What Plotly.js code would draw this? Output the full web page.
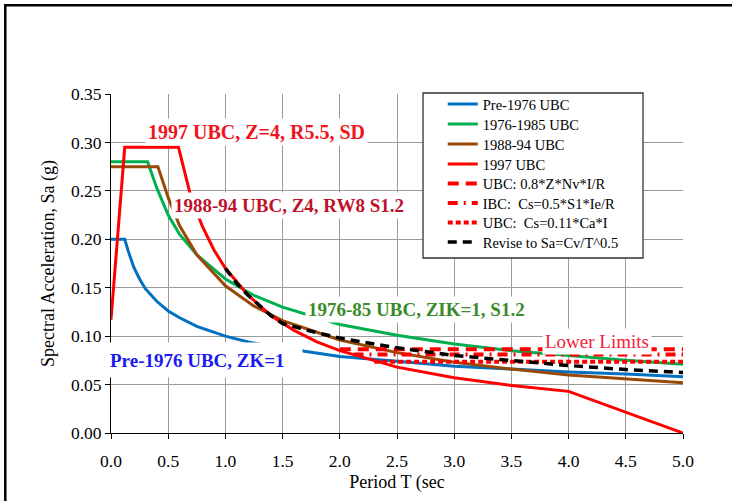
<!DOCTYPE html>
<html><head><meta charset="utf-8">
<script src="https://cdn.plot.ly/plotly-3.0.1.min.js"></script>
<style>html,body{margin:0;padding:0;background:#fff}</style>
</head><body><div id="chart" style="width:732px;height:501px"></div>
<script>
// ---- data ----
const seriesNames = ['Pre-1976 UBC', '1976-1985 UBC', '1988-94 UBC', '1997 UBC',
  'UBC: 0.8*Z*Nv*I/R', 'IBC:  Cs=0.5*S1*Ie/R', 'UBC:  Cs=0.11*Ca*I', 'Revise to Sa=Cv/T^0.5'];

const preT  = [0, 0.12, 0.15, 0.2, 0.25, 0.3, 0.4, 0.5, 0.6, 0.75, 1.0, 1.2, 1.37, 1.64, 2.0, 2.5, 3.0, 3.5, 4.0, 4.5, 5.0];
const preSa = [0.200, 0.200, 0.188, 0.171, 0.159, 0.149, 0.136, 0.126, 0.119, 0.110, 0.100, 0.094, 0.090, 0.085, 0.079, 0.074, 0.069, 0.066, 0.063, 0.061, 0.058];

const ubc76T  = [0, 0.1, 0.2, 0.32, 0.4, 0.5, 0.6, 0.75, 1.0, 1.25, 1.5, 2.0, 2.5, 3.0, 3.5, 4.0, 4.5, 5.0];
const ubc76Sa = [0.280, 0.280, 0.280, 0.280, 0.253, 0.225, 0.205, 0.184, 0.159, 0.142, 0.130, 0.112, 0.101, 0.092, 0.085, 0.080, 0.075, 0.071];

const ubc88T  = [0, 0.1, 0.2, 0.3, 0.41, 0.5, 0.6, 0.75, 1.0, 1.25, 1.5, 2.0, 2.5, 3.0, 3.5, 4.0, 4.5, 5.0];
const ubc88Sa = [0.275, 0.275, 0.275, 0.275, 0.275, 0.243, 0.214, 0.184, 0.152, 0.131, 0.116, 0.096, 0.083, 0.073, 0.066, 0.060, 0.056, 0.052];

const ubc97T  = [0, 0.12, 0.59, 0.7, 0.8, 0.9, 1.0, 1.2, 1.4, 1.6, 1.8, 2.0, 2.5, 3.0, 3.5, 4.0, 5.0];
const ubc97Sa = [0.117, 0.295, 0.295, 0.243, 0.213, 0.189, 0.170, 0.142, 0.121, 0.106, 0.094, 0.085, 0.068, 0.057, 0.049, 0.043, 0.000];

const limUbcT  = [2.0, 5.0];
const limUbcSa = [0.0865, 0.0865];
const limIbcT  = [2.12, 5.0];
const limIbcSa = [0.081, 0.081];
const limCaT   = [2.3, 5.0];
const limCaSa  = [0.0735, 0.0735];

const reviseT  = [1.0, 1.1, 1.2, 1.3, 1.4, 1.5, 1.75, 2.0, 2.5, 3.0, 3.5, 4.0, 4.5, 5.0];
const reviseSa = [0.170, 0.1545, 0.142, 0.131, 0.121, 0.113, 0.105, 0.098, 0.088, 0.080, 0.0745, 0.0697, 0.0655, 0.0625];

const xTickVals = [0, 0.5, 1.0, 1.5, 2.0, 2.5, 3.0, 3.5, 4.0, 4.5, 5.0];
const yTickVals = [0, 0.05, 0.10, 0.15, 0.20, 0.25, 0.30, 0.35];

const labelTexts = ['1997 UBC, Z=4, R5.5, SD', '1988-94 UBC, Z4, RW8 S1.2',
  '1976-85 UBC, ZIK=1, S1.2', 'Pre-1976 UBC, ZK=1', 'Lower Limits'];

// ---- styles ----
const serif = '"Liberation Serif", "Times New Roman", Times, serif';
const legendIds = ['legend', 'legend2', 'legend3', 'legend4', 'legend5', 'legend6', 'legend7', 'legend8'];
function tr(i, x, y, color, width, dash) {
  return {x: x, y: y, name: seriesNames[i], type: 'scatter', mode: 'lines', legend: legendIds[i],
    line: {color: color, width: width, dash: dash || 'solid'}, hoverinfo: 'skip'};
}
const data = [
  tr(0, preT, preSa, '#0070C0', 3),
  tr(1, ubc76T, ubc76Sa, '#00B050', 3),
  tr(2, ubc88T, ubc88Sa, '#984807', 3),
  tr(3, ubc97T, ubc97Sa, '#FF0000', 3),
  tr(4, limUbcT, limUbcSa, '#FF0000', 4, '11px,7px'),
  tr(5, limIbcT, limIbcSa, '#FF0000', 4, '10px,6px,2px,6px'),
  tr(6, limCaT, limCaSa, '#FF0000', 4, '5px,3px'),
  tr(7, reviseT, reviseSa, '#000000', 3.5, '9px,6px')
];

function ann(text, x, y, color, bold, size, extra) {
  return Object.assign({
    text: bold ? '<b>' + text + '</b>' : text, x: x, y: y, xref: 'x', yref: 'y',
    showarrow: false, bgcolor: '#FFFFFF', borderpad: 2,
    font: {family: serif, size: size, color: color}
  }, extra || {});
}

const layout = {
  width: 732, height: 501,
  margin: {l: 111, r: 49, t: 94, b: 68, pad: 0},
  paper_bgcolor: '#FFFFFF', plot_bgcolor: '#FFFFFF',
  font: {family: serif, size: 18, color: '#000'},
  xaxis: {
    range: [0, 5], tickvals: xTickVals, tickformat: '.1f',
    showgrid: true, gridcolor: '#9A9A9A', gridwidth: 1,
    showline: true, linecolor: '#000', linewidth: 1, zeroline: false,
    ticks: 'outside', ticklen: 5, tickcolor: '#000', tickwidth: 1, ticklabelstandoff: 7,
    tickfont: {family: serif, size: 17.5, color: '#000'},
    title: {text: 'Period T (sec', font: {family: serif, size: 18, color: '#000'}, standoff: 5},
    automargin: false, fixedrange: true
  },
  yaxis: {
    range: [0, 0.35], tickvals: yTickVals, tickformat: '.2f',
    showgrid: true, gridcolor: '#9A9A9A', gridwidth: 1,
    showline: true, linecolor: '#000', linewidth: 1, zeroline: false,
    ticks: 'outside', ticklen: 5, tickcolor: '#000', tickwidth: 1,
    tickfont: {family: serif, size: 17.5, color: '#000'},
    title: {text: 'Spectral Acceleration, Sa (g)', font: {family: serif, size: 18, color: '#000'}, standoff: 11},
    automargin: false, fixedrange: true
  },
  showlegend: true,
  shapes: [
    {type: 'rect', xref: 'paper', yref: 'paper', x0: -0.1848, x1: 1.2, y0: -0.25, y1: 1.2617,
      line: {color: '#000', width: 2.5}, fillcolor: 'rgba(0,0,0,0)', layer: 'above'},
    {type: 'rect', xref: 'paper', yref: 'paper', x0: 0.5455, x1: 0.9301, y0: 0.5162, y1: 1.0029,
      line: {color: '#333', width: 1.3}, fillcolor: '#FFFFFF', layer: 'above'}
  ],
  annotations: [
    ann(labelTexts[0], 1.272, 0.3108, '#F0141E', true, 20),
    ann(labelTexts[1], 1.560, 0.2354, '#C0112B', true, 19),
    ann(labelTexts[2], 2.670, 0.127, '#3A8A2A', true, 19),
    ann(labelTexts[3], 0.821, 0.0754, '#1A1AF0', true, 19, {width: 190, height: 30, align: 'left'}),
    ann(labelTexts[4], 4.248, 0.094, '#F5203A', false, 19)
  ]
};

// one single-entry legend per row, so that the row spacing matches the reference box
const rowPx = [104, 124, 144, 164, 183.5, 203, 222.5, 242];
legendIds.forEach(function (id, i) {
  layout[id] = {x: 0.580, y: (433 - rowPx[i]) / 339, xanchor: 'left', yanchor: 'middle',
    bgcolor: 'rgba(0,0,0,0)', borderwidth: 0, itemwidth: 30,
    font: {family: serif, size: 14.5, color: '#000'}};
});

Plotly.newPlot('chart', data, layout, {staticPlot: true, displayModeBar: false});
</script>
</body></html>
